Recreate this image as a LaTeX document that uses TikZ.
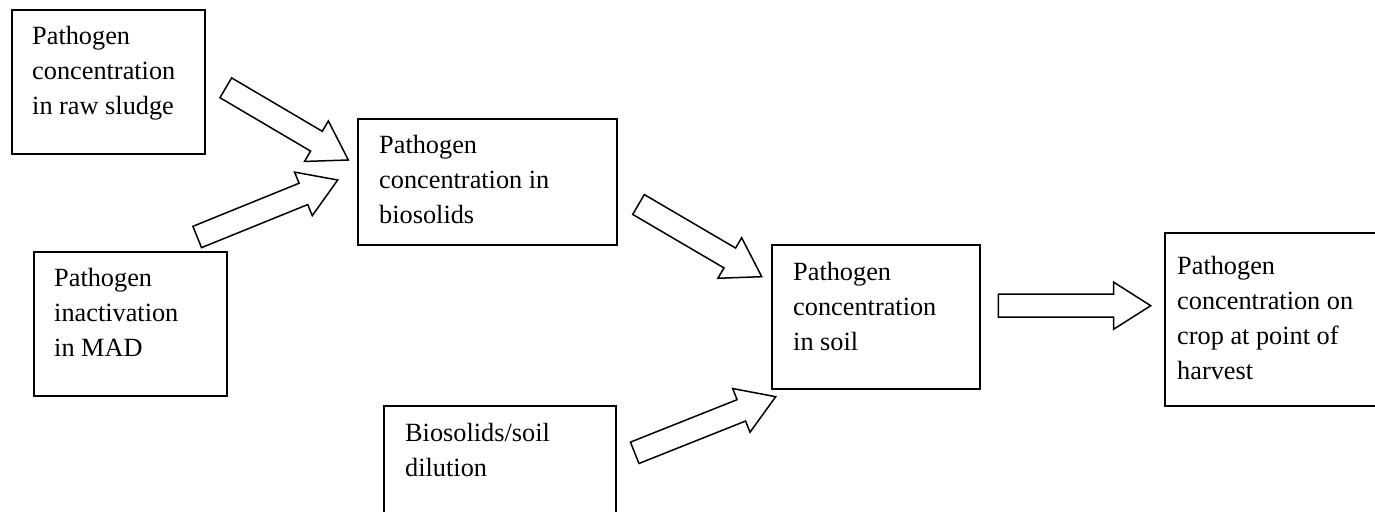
\documentclass[tikz,border=0pt]{standalone}
\usepackage{fontspec}
\setmainfont{Liberation Serif}
\usetikzlibrary{calc}

% hollow block arrow from tail centre #1 to tip #2
\newcommand\blockarrow[2]{%
  \path ($(#2)!37pt!(#1)$) coordinate (bh);
  \draw[arrowline]
    ($(#1)!11.5pt!90:(#2)$) -- ($(bh)!11.5pt!90:(#2)$) -- ($(bh)!23.5pt!90:(#2)$)
    -- (#2)
    -- ($(bh)!23.5pt!-90:(#2)$) -- ($(bh)!11.5pt!-90:(#2)$) -- ($(#1)!11.5pt!-90:(#2)$)
    -- cycle;}

\begin{document}
\begin{tikzpicture}[x=1pt,y=1pt,
  box/.style={draw=black, line width=1.6pt, fill=white, inner sep=0pt},
  label/.style={anchor=base west, inner sep=0pt,
    font=\fontsize{26.3}{35}\selectfont},
  arrowline/.style={draw=black, line width=1.5pt, fill=white, line join=miter}]
\clip (0,0) rectangle (1375,511);
\fill[white] (0,0) rectangle (1375,511);

% boxes
\node[box, minimum width=193pt, minimum height=144pt] (b1) at (108.5,429) {};
\node[box, minimum width=193pt, minimum height=144pt] (b2) at (130.5,187) {};
\node[box, minimum width=259pt, minimum height=126pt] (b3) at (487.5,329) {};
\node[box, minimum width=208pt, minimum height=144pt] (b4) at (876,194) {};
\node[box, minimum width=232pt, minimum height=114pt] (b5) at (500,48) {};
\node[box, minimum width=211pt, minimum height=173pt] (b6) at (1270.5,191.5) {};

% box texts
\node[label] (t1) at (32,466) {\begin{tabular}[t]{@{}l@{}}Pathogen\\concentration\\in raw sludge\end{tabular}};
\node[label] (t2) at (54,224) {\begin{tabular}[t]{@{}l@{}}Pathogen\\inactivation\\in MAD\end{tabular}};
\node[label] (t3) at (379,357) {\begin{tabular}[t]{@{}l@{}}Pathogen\\concentration in\\biosolids\end{tabular}};
\node[label] (t4) at (793,230) {\begin{tabular}[t]{@{}l@{}}Pathogen\\concentration\\in soil\end{tabular}};
\node[label] (t5) at (405,69) {\begin{tabular}[t]{@{}l@{}}Biosolids/soil\\dilution\end{tabular}};
\node[label] (t6) at (1177,236) {\begin{tabular}[t]{@{}l@{}}Pathogen\\concentration on\\crop at point of\\harvest\end{tabular}};

% arrow ends
\coordinate (a1s) at (225.8,423.2);  \coordinate (a1e) at (348.3,351);
\coordinate (a2s) at (197.2,274);    \coordinate (a2e) at (337.7,331);
\coordinate (a3s) at (638.5,306.5);  \coordinate (a3e) at (761.7,234.3);
\coordinate (a4s) at (634.7,58.2);   \coordinate (a4e) at (775.7,114.3);
\coordinate (a5s) at (998.3,205.3);  \coordinate (a5e) at (1150.7,205.3);

\blockarrow{a1s}{a1e}
\blockarrow{a2s}{a2e}
\blockarrow{a3s}{a3e}
\blockarrow{a4s}{a4e}
\blockarrow{a5s}{a5e}
\end{tikzpicture}
\end{document}
